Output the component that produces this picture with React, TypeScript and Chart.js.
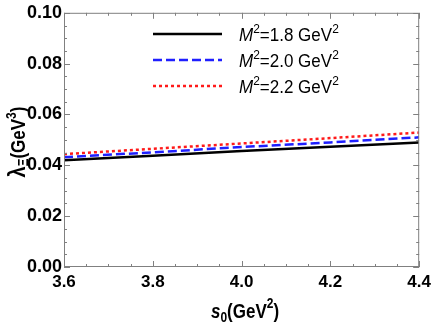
import React, { useEffect, useRef } from "react";
import { Chart, registerables } from "chart.js";

Chart.register(...registerables);

const s0Values = [3.6, 3.8, 4.0, 4.2, 4.4];
const lambdaM18 = [0.042, 0.0438, 0.0456, 0.0473, 0.049];
const lambdaM20 = [0.0432, 0.0451, 0.0472, 0.049, 0.051];
const lambdaM22 = [0.0444, 0.0465, 0.0486, 0.0507, 0.0529];
const seriesLabels = ["1.8", "2.0", "2.2"];
const seriesColors = ["#000000", "#1f1fff", "#ff1a1a"];
const seriesDashes: number[][] = [[], [9, 4], [3, 3]];

const FONT = "'Liberation Sans', Arial, sans-serif";

function drawPieces(
  ctx: CanvasRenderingContext2D,
  pieces: { t: string; font: string; dy: number }[],
  x: number,
  y: number,
  align: "left" | "center",
  sy = 1
) {
  let total = 0;
  for (const p of pieces) {
    ctx.font = p.font;
    total += ctx.measureText(p.t).width;
  }
  ctx.save();
  ctx.translate(x, y);
  ctx.scale(1, sy);
  let cx = align === "center" ? -total / 2 : 0;
  ctx.textBaseline = "alphabetic";
  ctx.textAlign = "left";
  for (const p of pieces) {
    ctx.font = p.font;
    ctx.fillText(p.t, cx, p.dy);
    cx += ctx.measureText(p.t).width;
  }
  ctx.restore();
}

const decorPlugin = {
  id: "decor",
  afterDraw(chart: any) {
    const ctx: CanvasRenderingContext2D = chart.ctx;
    const { left, right, top, bottom } = chart.chartArea;
    const xs = chart.scales.x;
    const ys = chart.scales.y;
    ctx.save();
    // frame
    ctx.strokeStyle = "#808080";
    ctx.lineWidth = 1;
    ctx.setLineDash([]);
    ctx.strokeRect(left + 0.5, top + 0.5, right - left - 1, bottom - top - 1);
    // ticks
    ctx.beginPath();
    for (let i = 0; i <= 16; i++) {
      const v = 3.6 + i * 0.05;
      const px = Math.round(xs.getPixelForValue(v)) + 0.5;
      const len = i % 4 === 0 ? 6 : 3;
      ctx.moveTo(px, bottom);
      ctx.lineTo(px, bottom - len);
      ctx.moveTo(px, top);
      ctx.lineTo(px, top + len);
    }
    for (let i = 0; i <= 20; i++) {
      const v = i * 0.005;
      const py = Math.round(ys.getPixelForValue(v)) + 0.5;
      const len = i % 4 === 0 ? 6 : 3;
      ctx.moveTo(left, py);
      ctx.lineTo(left + len, py);
      ctx.moveTo(right, py);
      ctx.lineTo(right - len, py);
    }
    ctx.stroke();

    ctx.fillStyle = "#000";
    // x title
    drawPieces(
      ctx,
      [
        { t: "s", font: `italic bold 17px ${FONT}`, dy: 0 },
        { t: "0", font: `bold 12px ${FONT}`, dy: 3 },
        { t: "(GeV", font: `bold 17px ${FONT}`, dy: 0 },
        { t: "2", font: `bold 12px ${FONT}`, dy: -8 },
        { t: ")", font: `bold 17px ${FONT}`, dy: 0 },
      ],
      245,
      318,
      "center",
      1.2
    );
    // y title
    ctx.save();
    ctx.translate(25, 142);
    ctx.rotate(-Math.PI / 2);
    drawPieces(
      ctx,
      [
        { t: "λ", font: `bold 20px ${FONT}`, dy: 0 },
        { t: "Ξ", font: `bold 12px ${FONT}`, dy: 3 },
        { t: "(GeV", font: `bold 17px ${FONT}`, dy: 0 },
        { t: "3", font: `bold 12px ${FONT}`, dy: -8 },
        { t: ")", font: `bold 17px ${FONT}`, dy: 0 },
      ],
      0,
      0,
      "center",
      1.15
    );
    ctx.restore();

    // legend
    const rows = [34, 60, 86];
    for (let i = 0; i < 3; i++) {
      const y = rows[i];
      ctx.strokeStyle = seriesColors[i];
      ctx.lineWidth = 2.5;
      ctx.setLineDash(seriesDashes[i]);
      ctx.beginPath();
      ctx.moveTo(153, y);
      ctx.lineTo(222, y);
      ctx.stroke();
      ctx.setLineDash([]);
      ctx.fillStyle = "#000";
      drawPieces(
        ctx,
        [
          { t: "M", font: `italic 17px ${FONT}`, dy: 0 },
          { t: "2", font: `12px ${FONT}`, dy: -7 },
          { t: `=${seriesLabels[i]} GeV`, font: `17px ${FONT}`, dy: 0 },
          { t: "2", font: `12px ${FONT}`, dy: -7 },
        ],
        239,
        y + 7,
        "left",
        1.1
      );
    }
    ctx.restore();
  },
};

export default function App() {
  const ref = useRef<HTMLCanvasElement>(null);
  useEffect(() => {
    document.body.style.margin = "0";
    const canvas = ref.current!;
    const mk = (vals: number[], i: number) => ({
      label: `M2=${seriesLabels[i]} GeV2`,
      data: s0Values.map((x, k) => ({ x, y: vals[k] })),
      borderColor: seriesColors[i],
      borderWidth: 2.5,
      borderDash: seriesDashes[i],
      pointRadius: 0,
      fill: false,
      tension: 0,
    });
    const chart = new Chart(canvas, {
      type: "line",
      data: {
        datasets: [mk(lambdaM18, 0), mk(lambdaM20, 1), mk(lambdaM22, 2)],
      },
      options: {
        animation: false,
        responsive: false,
        devicePixelRatio: 1,
        layout: { padding: { left: 0, right: 12, top: 8, bottom: 0 } },
        plugins: { legend: { display: false }, tooltip: { enabled: false } },
        scales: {
          x: {
            type: "linear",
            min: 3.6,
            max: 4.4,
            grid: { display: false, drawTicks: false },
            border: { display: false },
            ticks: {
              stepSize: 0.2,
              padding: 5,
              color: "#000",
              font: { family: FONT, size: 17, weight: "bold" },
              callback: (v: any) => Number(v).toFixed(1),
              maxRotation: 0,
            },
            afterFit: (s: any) => {
              s.height = 60;
            },
          },
          y: {
            min: 0,
            max: 0.1,
            grid: { display: false, drawTicks: false },
            border: { display: false },
            ticks: {
              stepSize: 0.02,
              padding: 2,
              color: "#000",
              font: { family: FONT, size: 18, weight: "bold" },
              callback: (v: any) => Number(v).toFixed(2),
            },
            afterFit: (s: any) => {
              s.width = 64;
            },
          },
        },
      } as any,
      plugins: [decorPlugin],
    });
    return () => chart.destroy();
  }, []);
  return <canvas ref={ref} width={436} height={327} style={{ display: "block" }} />;
}
